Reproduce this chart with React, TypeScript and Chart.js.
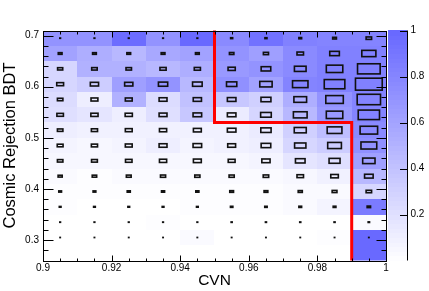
import React, { useEffect, useRef } from 'react';
import { Chart, registerables } from 'chart.js';

Chart.register(...registerables);

// ---- data -------------------------------------------------------------
const cvnBinEdges = [0.9, 0.91, 0.92, 0.93, 0.94, 0.95, 0.96, 0.97, 0.98, 0.99, 1.0];
const bdtBinEdges = [0.26, 0.29, 0.32, 0.35, 0.38, 0.41, 0.44, 0.47, 0.5, 0.53, 0.56, 0.59, 0.62, 0.65, 0.68, 0.71];

// colour (z) level per cell; rows from the top BDT bin (0.68-0.71) down to the bottom one (0.26-0.29)
const colourLevel = [
  [0.7, 0.7, 0.97, 0.7, 1.0, 0.77, 0.93, 0.83, 0.8, 0.8],
  [0.6, 0.53, 0.47, 0.57, 0.6, 0.7, 0.63, 0.77, 0.83, 0.83],
  [0.27, 0.5, 0.5, 0.47, 0.53, 0.67, 0.7, 0.77, 0.83, 0.83],
  [0.27, 0.33, 0.63, 0.7, 0.47, 0.73, 0.6, 0.8, 0.83, 0.83],
  [0.23, 0.1, 0.5, 0.23, 0.4, 0.37, 0.3, 0.53, 0.7, 0.8],
  [0.2, 0.17, 0.1, 0.2, 0.37, 0.13, 0.27, 0.47, 0.67, 0.8],
  [0.1, 0.08, 0.08, 0.08, 0.08, 0.08, 0.13, 0.3, 0.43, 0.77],
  [0.06, 0.04, 0.06, 0.1, 0.06, 0.08, 0.1, 0.27, 0.33, 0.73],
  [0.05, 0.05, 0.05, 0.04, 0.04, 0.05, 0.06, 0.17, 0.2, 0.63],
  [0.02, 0.01, 0.02, 0.02, 0.02, 0.02, 0.02, 0.05, 0.08, 0.47],
  [0.01, 0.01, 0.01, 0.01, 0.01, 0.01, 0.01, 0.02, 0.03, 0.27],
  [0.01, 0, 0, 0, 0.01, 0.01, 0.01, 0.02, 0.06, 0.87],
  [0, 0, 0, 0.01, 0, 0, 0, 0, 0, 0.02],
  [0, 0, 0, 0, 0.02, 0, 0, 0, 0.01, 1.0],
  [0, 0, 0, 0, 0, 0, 0, 0, 0, 1.0],
];

// box size (fraction of the cell) per cell, same row order
const boxSize = [
  [0.02, 0.02, 0.02, 0.02, 0.02, 0.06, 0.06, 0.08, 0.11, 0.16],
  [0.11, 0.11, 0.11, 0.11, 0.11, 0.13, 0.15, 0.19, 0.28, 0.41],
  [0.15, 0.16, 0.16, 0.18, 0.18, 0.21, 0.28, 0.34, 0.48, 0.66],
  [0.2, 0.24, 0.24, 0.27, 0.28, 0.3, 0.36, 0.45, 0.6, 0.78],
  [0.16, 0.2, 0.2, 0.23, 0.24, 0.25, 0.29, 0.37, 0.51, 0.68],
  [0.19, 0.21, 0.21, 0.23, 0.25, 0.25, 0.31, 0.4, 0.48, 0.62],
  [0.16, 0.18, 0.2, 0.21, 0.23, 0.25, 0.3, 0.35, 0.43, 0.51],
  [0.17, 0.18, 0.2, 0.23, 0.25, 0.23, 0.28, 0.33, 0.4, 0.46],
  [0.16, 0.17, 0.19, 0.21, 0.23, 0.2, 0.24, 0.28, 0.32, 0.36],
  [0.12, 0.13, 0.14, 0.15, 0.15, 0.15, 0.16, 0.19, 0.22, 0.25],
  [0.08, 0.08, 0.09, 0.09, 0.09, 0.11, 0.11, 0.12, 0.14, 0.16],
  [0.05, 0.05, 0.05, 0.05, 0.05, 0.07, 0.07, 0.08, 0.08, 0.1],
  [0.02, 0.02, 0.02, 0.02, 0.02, 0.03, 0.03, 0.03, 0.03, 0.04],
  [0.01, 0.01, 0.01, 0.01, 0.01, 0.01, 0.01, 0.01, 0.01, 0.01],
  [0, 0, 0, 0, 0, 0, 0, 0, 0, 0],
];

const xTickValues = [0.9, 0.92, 0.94, 0.96, 0.98, 1.0];
const xTickLabels = ['0.9', '0.92', '0.94', '0.96', '0.98', '1'];
const yTickValues = [0.3, 0.4, 0.5, 0.6, 0.7];
const yTickLabels = ['0.3', '0.4', '0.5', '0.6', '0.7'];
const zTickValues = [0.2, 0.4, 0.6, 0.8, 1.0];
const zTickLabels = ['0.2', '0.4', '0.6', '0.8', '1'];

const cutCvn = [0.95, 0.95, 0.99, 0.99];
const cutBdt = [0.71, 0.53, 0.53, 0.26];

const xTitle = 'CVN';
const yTitle = 'Cosmic Rejection BDT';

// ---- helpers ----------------------------------------------------------
const FONT = "'Liberation Sans', Arial, Helvetica, sans-serif";
const PALETTE_LEVELS = 50;

function palette(v: number): string {
  const q = Math.min(PALETTE_LEVELS - 1, Math.max(0, Math.floor(v * PALETTE_LEVELS)));
  const f = (q + 0.5) / PALETTE_LEVELS;
  const c = Math.round(255 - 152 * f);
  return `rgb(${c},${c},255)`;
}

function labelFor(values: number[], labels: string[]) {
  return (v: any) => {
    const i = values.findIndex((t) => Math.abs(t - Number(v)) < 1e-9);
    return i >= 0 ? labels[i] : '';
  };
}

type Cell = { x: number; y: number; x0: number; x1: number; y0: number; y1: number; z: number; s: number };

function buildCells(): Cell[] {
  const cells: Cell[] = [];
  const nRows = bdtBinEdges.length - 1;
  for (let r = 0; r < colourLevel.length; r++) {
    const bin = nRows - 1 - r;
    const y0 = bdtBinEdges[bin];
    const y1 = bdtBinEdges[bin + 1];
    for (let c = 0; c < cvnBinEdges.length - 1; c++) {
      const x0 = cvnBinEdges[c];
      const x1 = cvnBinEdges[c + 1];
      cells.push({ x: (x0 + x1) / 2, y: (y0 + y1) / 2, x0, x1, y0, y1, z: colourLevel[r][c], s: boxSize[r][c] });
    }
  }
  return cells;
}

const histPlugin = {
  id: 'hist2d',
  beforeDatasetsDraw(chart: any) {
    const { ctx, chartArea } = chart;
    const xs = chart.scales.x;
    const ys = chart.scales.y;
    const cells: Cell[] = chart.data.datasets[0].data;
    ctx.save();
    ctx.beginPath();
    ctx.rect(chartArea.left, chartArea.top, chartArea.right - chartArea.left, chartArea.bottom - chartArea.top);
    ctx.clip();
    for (const p of cells) {
      if (p.z <= 0) continue;
      const l = Math.round(xs.getPixelForValue(p.x0));
      const r = Math.round(xs.getPixelForValue(p.x1));
      const t = Math.round(ys.getPixelForValue(p.y1));
      const b = Math.round(ys.getPixelForValue(p.y0));
      ctx.fillStyle = palette(p.z);
      ctx.fillRect(l, t, r - l, b - t);
    }
    ctx.strokeStyle = '#111';
    ctx.lineWidth = 1.6;
    for (const p of cells) {
      if (p.s <= 0) continue;
      const cx = xs.getPixelForValue(p.x);
      const cy = ys.getPixelForValue(p.y);
      const cw = Math.abs(xs.getPixelForValue(p.x1) - xs.getPixelForValue(p.x0));
      const ch = Math.abs(ys.getPixelForValue(p.y1) - ys.getPixelForValue(p.y0));
      const w = p.s * cw;
      const h = p.s * ch;
      ctx.strokeRect(cx - w / 2, cy - h / 2, w, h);
    }
    ctx.restore();
  },
  afterDraw(chart: any) {
    const { ctx, chartArea } = chart;
    const xs = chart.scales.x;
    const ys = chart.scales.y;
    const zs = chart.scales.z;
    ctx.save();

    // cut line
    ctx.strokeStyle = '#ff0000';
    ctx.lineWidth = 3;
    ctx.lineJoin = 'miter';
    ctx.beginPath();
    cutCvn.forEach((x, i) => {
      const px = xs.getPixelForValue(x);
      const py = ys.getPixelForValue(cutBdt[i]);
      if (i === 0) ctx.moveTo(px, py);
      else ctx.lineTo(px, py);
    });
    ctx.stroke();

    // frame
    ctx.strokeStyle = '#000';
    ctx.lineWidth = 1;
    const L = Math.round(chartArea.left) + 0.5;
    const R = Math.round(chartArea.right) + 0.5;
    const T = Math.round(chartArea.top) + 0.5;
    const B = Math.round(chartArea.bottom) + 0.5;
    ctx.strokeRect(L, T, R - L, B - T);

    // inner ticks
    ctx.beginPath();
    for (let k = 0; k <= 20; k++) {
      const v = 0.9 + k * 0.005;
      const major = k % 4 === 0;
      const len = major ? 6 : 3;
      const px = Math.round(xs.getPixelForValue(v)) + 0.5;
      ctx.moveTo(px, B);
      ctx.lineTo(px, B - len);
      ctx.moveTo(px, T);
      ctx.lineTo(px, T + len);
    }
    for (let k = 14; k <= 35; k++) {
      const v = k * 0.02;
      const major = k % 5 === 0;
      const len = major ? 10 : 5;
      const py = Math.round(ys.getPixelForValue(v)) + 0.5;
      ctx.moveTo(L, py);
      ctx.lineTo(L + len, py);
      ctx.moveTo(R, py);
      ctx.lineTo(R - len, py);
    }
    ctx.stroke();

    // colour bar
    const cbL = Math.round(chartArea.right) + 2;
    const cbR = Math.round(chartArea.right) + 21;
    for (let k = 0; k < PALETTE_LEVELS; k++) {
      const v0 = k / PALETTE_LEVELS;
      const v1 = (k + 1) / PALETTE_LEVELS;
      const y0 = zs.getPixelForValue(v0);
      const y1 = zs.getPixelForValue(v1);
      ctx.fillStyle = palette((k + 0.5) / PALETTE_LEVELS);
      ctx.fillRect(cbL, Math.floor(y1), cbR - cbL, Math.ceil(y0) - Math.floor(y1));
    }
    ctx.strokeStyle = '#000';
    ctx.beginPath();
    ctx.moveTo(cbR + 0.5, zs.getPixelForValue(0));
    ctx.lineTo(cbR + 0.5, zs.getPixelForValue(1));
    for (const v of zTickValues) {
      const py = Math.round(zs.getPixelForValue(v)) + 0.5;
      ctx.moveTo(cbR + 0.5, py);
      ctx.lineTo(cbR - 7, py);
    }
    ctx.stroke();
    ctx.restore();
  },
};

export default function App() {
  const ref = useRef<HTMLCanvasElement>(null);

  useEffect(() => {
    if (!ref.current) return;
    const tickFont = { family: FONT, size: 10 };
    const chart = new Chart(ref.current, {
      type: 'scatter',
      data: {
        datasets: [
          {
            label: 'cells',
            data: buildCells() as any,
            pointRadius: 0,
            pointHoverRadius: 0,
          },
        ],
      },
      options: {
        animation: false,
        responsive: false,
        devicePixelRatio: 1,
        events: [],
        layout: { padding: { top: 28, right: 0, bottom: 0, left: 0 } },
        plugins: { legend: { display: false }, tooltip: { enabled: false } },
        scales: {
          x: {
            type: 'linear',
            min: 0.9,
            max: 1.0,
            grid: { display: false, drawTicks: false },
            border: { display: false },
            afterBuildTicks: (s: any) => {
              s.ticks = xTickValues.map((value) => ({ value }));
            },
            afterFit: (s: any) => {
              s.height = 30;
            },
            ticks: {
              autoSkip: false,
              maxRotation: 0,
              padding: 2,
              color: '#000',
              font: tickFont,
              callback: labelFor(xTickValues, xTickLabels),
            },
            title: {
              display: true,
              text: xTitle,
              color: '#000',
              font: { family: FONT, size: 15.5 },
              padding: { top: 0, bottom: 0 },
            },
          },
          y: {
            type: 'linear',
            position: 'left',
            min: 0.26,
            max: 0.71,
            grid: { display: false, drawTicks: false },
            border: { display: false },
            afterBuildTicks: (s: any) => {
              s.ticks = yTickValues.map((value) => ({ value }));
            },
            afterFit: (s: any) => {
              s.width = 43;
            },
            ticks: {
              autoSkip: false,
              padding: 4,
              color: '#000',
              font: tickFont,
              callback: labelFor(yTickValues, yTickLabels),
            },
            title: {
              display: true,
              text: yTitle,
              color: '#000',
              font: { family: FONT, size: 16.5 },
              padding: { top: 0.5, bottom: 0 },
            },
          },
          z: {
            type: 'linear',
            axis: 'y',
            position: 'right',
            min: 0,
            max: 1,
            grid: { display: false, drawTicks: false },
            border: { display: false },
            afterBuildTicks: (s: any) => {
              s.ticks = zTickValues.map((value) => ({ value }));
            },
            afterFit: (s: any) => {
              s.width = 43;
            },
            ticks: {
              autoSkip: false,
              padding: 24.5,
              color: '#000',
              font: tickFont,
              callback: labelFor(zTickValues, zTickLabels),
            },
          },
        },
      } as any,
      plugins: [histPlugin],
    });
    return () => chart.destroy();
  }, []);

  return (
    <div style={{ position: 'absolute', left: 0, top: 0, width: 429, height: 291, background: '#fff' }}>
      <canvas ref={ref} width={429} height={291} style={{ display: 'block' }} />
    </div>
  );
}
